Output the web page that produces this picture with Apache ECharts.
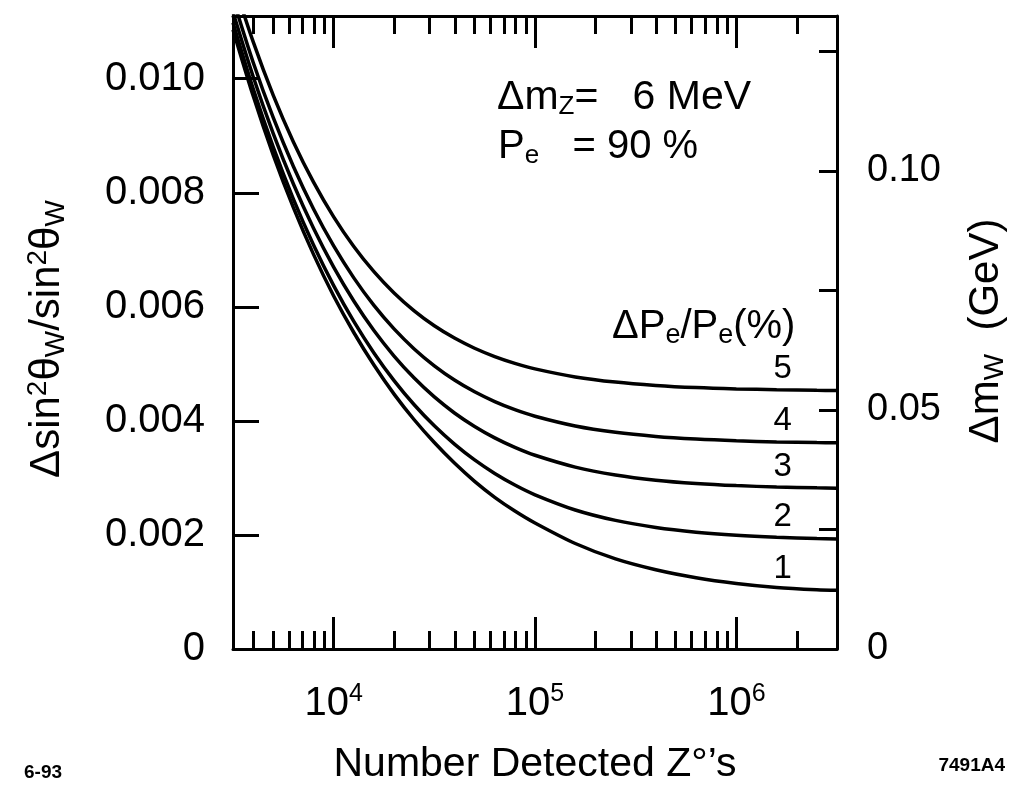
<!DOCTYPE html>
<html><head><meta charset="utf-8">
<script src="https://cdn.jsdelivr.net/npm/echarts@6/dist/echarts.min.js"></script>
<style>html,body{margin:0;padding:0;background:#fff}#c{width:1014px;height:792px}</style>
</head><body><div id="c"></div>
<script>
// ---- data ----
const nDetected = [3162, 3981, 5012, 6310, 7943, 10000, 12589, 15849, 19953, 25119, 31623, 39811, 50119, 63096, 79433, 100000, 158489, 251189, 398107, 630957, 1000000, 1584893, 2511886, 3162278];
const curve1 = [0.01086, 0.0097, 0.00866, 0.00774, 0.00692, 0.00619, 0.00555, 0.00498, 0.00447, 0.00402, 0.00362, 0.00326, 0.00294, 0.00266, 0.00242, 0.00221, 0.00185, 0.00158, 0.00139, 0.00125, 0.00115, 0.00108, 0.00104, 0.00103];
const curve2 = [0.01098, 0.009826, 0.0088, 0.00789, 0.007085, 0.006373, 0.005745, 0.005192, 0.004707, 0.004283, 0.003913, 0.003592, 0.003315, 0.003078, 0.002875, 0.002704, 0.002438, 0.002255, 0.002131, 0.002049, 0.001995, 0.00196, 0.001938, 0.001931];
const curve3 = [0.01117, 0.01004, 0.009037, 0.008153, 0.007377, 0.006696, 0.006102, 0.005584, 0.005137, 0.004751, 0.00442, 0.004139, 0.003902, 0.003702, 0.003535, 0.003397, 0.00319, 0.003052, 0.002961, 0.002903, 0.002865, 0.002841, 0.002826, 0.002821];
const curve4 = [0.0114, 0.01029, 0.009316, 0.008462, 0.007716, 0.007068, 0.006508, 0.006025, 0.005613, 0.005262, 0.004966, 0.004717, 0.00451, 0.004339, 0.004197, 0.004082, 0.003911, 0.003799, 0.003727, 0.003681, 0.003651, 0.003632, 0.00362, 0.003616];
const curve5 = [0.01172, 0.01065, 0.009708, 0.008892, 0.008186, 0.007578, 0.007058, 0.006616, 0.006243, 0.00593, 0.005668, 0.005452, 0.005274, 0.005128, 0.005009, 0.004912, 0.004771, 0.00468, 0.004622, 0.004584, 0.004561, 0.004546, 0.004536, 0.004533];
const curveLabels = ['1', '2', '3', '4', '5'];
const curveLabelN = 1.7e6;
const xRange = [3162.2777, 3162277.7];
const xMajorTicks = [1e4, 1e5, 1e6];
const xMinorTicks = [4000, 5000, 6000, 7000, 8000, 9000, 20000, 30000, 40000, 50000, 60000, 70000, 80000, 90000, 200000, 300000, 400000, 500000, 600000, 700000, 800000, 900000, 2000000];
const yLeftTicks = [0, 0.002, 0.004, 0.006, 0.008, 0.010];
const yLeftMax = 0.0111;
const yRightTicks = [0, 0.025, 0.05, 0.075, 0.10, 0.125];
const yRightLabels = [0, 0.05, 0.10];
const yRightMax = 0.1324;

// ---- chart ----
const FF = '"Liberation Sans", Arial, Helvetica, sans-serif';
const chart = echarts.init(document.getElementById('c'), null, {renderer: 'canvas'});
const curves = [curve1, curve2, curve3, curve4, curve5];
const lg = v => Math.log10(v);
const blk = '#000';

function tickAxis(pos, values, len, labels) {
  return {
    type: 'value', gridIndex: 0, position: pos,
    min: lg(xRange[0]), max: lg(xRange[1]),
    axisLine: {show: false},
    axisTick: {show: true, inside: true, length: len, customValues: values.map(lg), lineStyle: {color: blk, width: 3}},
    axisLabel: labels ? {
      show: true, customValues: values.map(lg), margin: 33,
      formatter: v => '{b|10}{s|' + Math.round(v) + '}',
      rich: {
        b: {fontSize: 40, lineHeight: 44, color: blk, fontFamily: FF},
        s: {fontSize: 25, lineHeight: 28, verticalAlign: 'top', color: blk, fontFamily: FF}
      }
    } : {show: false},
    splitLine: {show: false}
  };
}

const xAxes = [
  {type: 'log', logBase: 10, min: xRange[0], max: xRange[1], position: 'bottom',
   axisLine: {show: true, onZero: false, lineStyle: {color: blk, width: 3}},
   axisTick: {show: false}, axisLabel: {show: false}, splitLine: {show: false}},
  tickAxis('bottom', xMinorTicks, 18, false),
  tickAxis('bottom', xMajorTicks, 32, true),
  Object.assign(tickAxis('top', xMinorTicks, 18, false), {axisLine: {show: true, onZero: false, lineStyle: {color: blk, width: 3}}}),
  tickAxis('top', xMajorTicks, 32, false)
];

const series = curves.map((c, k) => ({
  type: 'line', xAxisIndex: 0, yAxisIndex: 0,
  data: nDetected.map((n, i) => [n, c[i]]),
  showSymbol: false, smooth: 0.3, silent: true,
  lineStyle: {color: blk, width: 3.5},
  markPoint: {
    symbol: 'circle', symbolSize: 0, silent: true,
    itemStyle: {color: 'rgba(0,0,0,0)'},
    label: {show: true, position: 'top', distance: 5, formatter: curveLabels[k], fontSize: 33, color: blk, fontFamily: FF},
    data: [{coord: [curveLabelN, c[c.length - 1]]}]
  }
}));

const richMain = {fontSize: 40, lineHeight: 44, color: blk, fontFamily: FF};
const option = {
  animation: false,
  backgroundColor: '#fff',
  textStyle: {fontFamily: FF},
  grid: {left: 233, right: 177, top: 16, bottom: 143, containLabel: false},
  xAxis: xAxes,
  yAxis: [
    {type: 'value', min: 0, max: yLeftMax, position: 'left',
     axisLine: {show: true, onZero: false, lineStyle: {color: blk, width: 3}},
     axisTick: {show: true, inside: true, length: 26, customValues: yLeftTicks, lineStyle: {color: blk, width: 3}},
     axisLabel: {customValues: yLeftTicks, formatter: v => v === 0 ? '0' : v.toFixed(3), fontSize: 40, color: blk, margin: 28, fontFamily: FF},
     splitLine: {show: false}},
    {type: 'value', min: 0, max: yRightMax, position: 'right',
     axisLine: {show: true, onZero: false, lineStyle: {color: blk, width: 3}},
     axisTick: {show: true, inside: true, length: 18, customValues: yRightTicks, lineStyle: {color: blk, width: 3}},
     axisLabel: {customValues: yRightLabels, formatter: v => v === 0 ? '0' : v.toFixed(2), fontSize: 38, color: blk, margin: 30, fontFamily: FF},
     splitLine: {show: false}}
  ],
  series: series,
  graphic: [
    {type: 'text', x: 497, y: 97.5, silent: true, style: {
      text: '{b|Δm}{z|Z}{b|=   6 MeV}', verticalAlign: 'middle', align: 'left',
      rich: {b: {fontSize: 41, lineHeight: 44, color: blk, fontFamily: FF}, z: {fontSize: 26, lineHeight: 14, verticalAlign: 'bottom', color: blk, fontFamily: FF}}}},
    {type: 'text', x: 498, y: 146.5, silent: true, style: {
      text: '{b|P}{e|e}{b|   = 90 %}', verticalAlign: 'middle', align: 'left',
      rich: {b: richMain, e: {fontSize: 26, lineHeight: 27, verticalAlign: 'bottom', color: blk, fontFamily: FF}}}},
    {type: 'text', x: 612, y: 327, silent: true, style: {
      text: '{b|ΔP}{e|e}{b|/P}{e|e}{b|(%)}', verticalAlign: 'middle', align: 'left',
      rich: {b: {fontSize: 40, lineHeight: 44, color: blk, fontFamily: FF}, e: {fontSize: 27, lineHeight: 26, verticalAlign: 'bottom', color: blk, fontFamily: FF}}}},
    {type: 'text', x: 535, y: 765, silent: true, style: {
      text: 'Number Detected Z°’s', fontSize: 41, fill: blk, fontFamily: FF, align: 'center', verticalAlign: 'middle'}},
    {type: 'text', x: 47, y: 339, rotation: Math.PI / 2, silent: true, style: {
      text: '{b|Δsin}{s|2}{b|θ}{w|W}{b|/sin}{s|2}{b|θ}{w|W}', align: 'center', verticalAlign: 'middle',
      rich: {b: {fontSize: 42, lineHeight: 46, color: blk, fontFamily: FF},
             s: {fontSize: 28, lineHeight: 32, verticalAlign: 'top', color: blk, fontFamily: FF},
             w: {fontSize: 28, lineHeight: 14, verticalAlign: 'bottom', color: blk, fontFamily: FF}}}},
    {type: 'text', x: 986, y: 331, rotation: Math.PI / 2, silent: true, style: {
      text: '{b|Δm}{w|W}{b|  (GeV)}', align: 'center', verticalAlign: 'middle',
      rich: {b: {fontSize: 42, lineHeight: 46, color: blk, fontFamily: FF},
             w: {fontSize: 28, lineHeight: 14, verticalAlign: 'bottom', color: blk, fontFamily: FF}}}},
    {type: 'text', x: 24, y: 773, silent: true, style: {
      text: '6-93', fontSize: 19, fontWeight: 'bold', fill: blk, fontFamily: FF, align: 'left', verticalAlign: 'middle'}},
    {type: 'text', x: 1005, y: 766, silent: true, style: {
      text: '7491A4', fontSize: 19, fontWeight: 'bold', fill: blk, fontFamily: FF, align: 'right', verticalAlign: 'middle'}}
  ]
};
chart.setOption(option);
</script>
</body></html>
